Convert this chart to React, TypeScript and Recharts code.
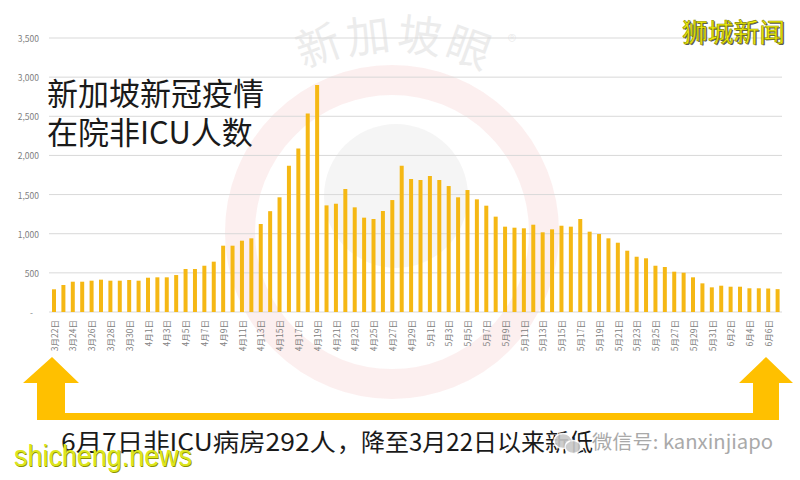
import React from 'react';
import { BarChart, Bar, XAxis, YAxis, CartesianGrid } from 'recharts';

// categories: one bar per day, 3/22 .. 6/7
const marDates = ['3月22日', '3月23日', '3月24日', '3月25日', '3月26日', '3月27日', '3月28日', '3月29日', '3月30日', '3月31日'];
const aprDates = [
  '4月1日', '4月2日', '4月3日', '4月4日', '4月5日', '4月6日', '4月7日', '4月8日', '4月9日', '4月10日',
  '4月11日', '4月12日', '4月13日', '4月14日', '4月15日', '4月16日', '4月17日', '4月18日', '4月19日', '4月20日',
  '4月21日', '4月22日', '4月23日', '4月24日', '4月25日', '4月26日', '4月27日', '4月28日', '4月29日', '4月30日',
];
const mayDates = [
  '5月1日', '5月2日', '5月3日', '5月4日', '5月5日', '5月6日', '5月7日', '5月8日', '5月9日', '5月10日',
  '5月11日', '5月12日', '5月13日', '5月14日', '5月15日', '5月16日', '5月17日', '5月18日', '5月19日', '5月20日',
  '5月21日', '5月22日', '5月23日', '5月24日', '5月25日', '5月26日', '5月27日', '5月28日', '5月29日', '5月30日', '5月31日',
];
const junDates = ['6月1日', '6月2日', '6月3日', '6月4日', '6月5日', '6月6日', '6月7日'];

// non-ICU hospitalised
const marValues = [290, 345, 387, 387, 400, 413, 400, 400, 410, 400];
const aprValues = [
  438, 443, 443, 472, 549, 549, 591, 643, 847, 847,
  911, 941, 1124, 1288, 1465, 1869, 2090, 2537, 2899, 1362,
  1383, 1571, 1337, 1205, 1188, 1290, 1430, 1869, 1699, 1686,
];
const mayValues = [
  1737, 1686, 1609, 1465, 1558, 1439, 1358, 1218, 1090, 1077,
  1069, 1115, 1018, 1056, 1102, 1090, 1188, 1026, 996, 941,
  885, 783, 706, 686, 591, 575, 515, 502, 443, 366, 315,
];
const junValues = [336, 323, 323, 303, 303, 300, 292];

const yTicks = [0, 500, 1000, 1500, 2000, 2500, 3000, 3500];

const dates = [...marDates, ...aprDates, ...mayDates, ...junDates];
const values = [...marValues, ...aprValues, ...mayValues, ...junValues];
const data = dates.map((d, i) => ({ date: d, value: values[i] }));

const FONT = "'Noto Sans CJK SC', 'Noto Sans', sans-serif";
const GOLD = '#FFC000';

const XTick = (props: any) => {
  const { x, y, payload } = props;
  const ty = y + 8;
  return (
    <text
      x={x}
      y={ty}
      transform={`rotate(-90, ${x}, ${ty})`}
      textAnchor="end"
      dominantBaseline="central"
      fontSize={8.5}
      fill="#808080"
      fontFamily={FONT}
    >
      {payload.value}
    </text>
  );
};

const YTick = (props: any) => {
  const { x, y, payload } = props;
  const v = payload.value as number;
  return (
    <text
      x={v === 0 ? x - 6 : x}
      y={y}
      textAnchor="end"
      dominantBaseline="central"
      fontSize={8.5}
      fill="#808080"
      fontFamily={FONT}
    >
      {v === 0 ? '-' : v.toLocaleString('en-US')}
    </text>
  );
};

const abs: React.CSSProperties = { position: 'absolute', left: 0, top: 0 };

export default function App() {
  return (
    <div style={{ position: 'absolute', left: 0, top: 0, width: 800, height: 480, background: '#fff', overflow: 'hidden', fontFamily: FONT }}>
      {/* faint watermark logo behind the chart */}
      <svg width={800} height={480} style={abs}>
        <circle cx={392} cy={232} r={152} fill="none" stroke="#f8dcdc" strokeWidth={30} opacity={0.45} />
        <circle cx={396} cy={196} r={72} fill="#eeeeee" opacity={0.6} />
        <g fill="#000" opacity={0.07} fontSize={44} fontFamily={FONT}>
          <text x={318} y={62} textAnchor="middle" transform="rotate(-20 318 45)">新</text>
          <text x={368} y={52} textAnchor="middle" transform="rotate(-7 368 35)">加</text>
          <text x={420} y={52} textAnchor="middle" transform="rotate(7 420 35)">坡</text>
          <text x={470} y={64} textAnchor="middle" transform="rotate(20 470 45)">眼</text>
          <text x={512} y={48} textAnchor="middle" fontSize={18}>®</text>
        </g>
      </svg>

      <div style={abs}>
        <BarChart width={800} height={480} data={data} margin={{ top: 38, right: 18, bottom: 108, left: 0 }}>
          <CartesianGrid vertical={false} stroke="#d9d9d9" />
          <XAxis
            dataKey="date"
            interval={1}
            height={60}
            tick={<XTick />}
            tickLine={false}
            axisLine={false}
            tickSize={0}
            tickMargin={0}
          />
          <YAxis
            width={49}
            domain={[0, 3500]}
            ticks={yTicks}
            tick={<YTick />}
            tickLine={false}
            axisLine={false}
            tickSize={0}
            tickMargin={10}
          />
          <Bar dataKey="value" fill="#F5B814" barSize={4} isAnimationActive={false} />
        </BarChart>
      </div>

      {/* annotations */}
      <svg width={800} height={480} style={abs}>
        <text x={47} y={105} fontSize={31} fill="#1a1a1a" fontFamily={FONT}>新加坡新冠疫情</text>
        <text x={47} y={144} fontSize={31} fill="#1a1a1a" fontFamily={FONT}>在院非ICU人数</text>

        <text x={682} y={42} fontSize={26} fontFamily={FONT} textLength={103} lengthAdjust="spacingAndGlyphs" fill="#555" transform="translate(1.2 1.2)">狮城新闻</text>
        <text x={682} y={42} fontSize={26} fontFamily={FONT} textLength={103} lengthAdjust="spacingAndGlyphs" fill="#F2F20A" stroke="#8a8a00" strokeWidth={0.6}>狮城新闻</text>

        <path
          d="M52,357 L79,383 L65,383 L65,413 L753,413 L753,383 L739,383 L766,357 L793,383 L779,383 L779,420 L37,420 L37,383 L23,383 Z"
          fill={GOLD}
        />

        <text x={61} y={451} fontSize={24} fill="#1a1a1a" fontFamily={FONT} textLength={275} lengthAdjust="spacingAndGlyphs">6月7日非ICU病房292人</text>
        <text x={337} y={451} fontSize={24} fill="#1a1a1a" fontFamily={FONT}>，</text>
        <text x={361} y={451} fontSize={24} fill="#1a1a1a" fontFamily={FONT}>降至3月22日以来新低</text>

        <g opacity={0.9}>
          <ellipse cx={563} cy={441} rx={9} ry={7.5} fill="#c8c8c8" stroke="#fff" strokeWidth={1.5} />
          <ellipse cx={573} cy={447} rx={8} ry={6.5} fill="#c8c8c8" stroke="#fff" strokeWidth={1.5} />
        </g>
        <text
          x={592}
          y={449}
          fontSize={19}
          fill="#a9a9a9"
          stroke="#fff"
          strokeWidth={2}
          strokeOpacity={0.7}
          paintOrder="stroke"
          fontFamily={FONT}
          textLength={181}
          lengthAdjust="spacingAndGlyphs"
        >
          微信号: kanxinjiapo
        </text>

        <text x={14} y={466} fontSize={29} fill="#8c9200" fontFamily="'Liberation Sans', sans-serif" textLength={178} lengthAdjust="spacingAndGlyphs" transform="translate(0.8 0.8)">shicheng.news</text>
        <text x={14} y={466} fontSize={29} fill="#DDE61E" fontFamily="'Liberation Sans', sans-serif" textLength={178} lengthAdjust="spacingAndGlyphs">shicheng.news</text>
      </svg>
    </div>
  );
}
